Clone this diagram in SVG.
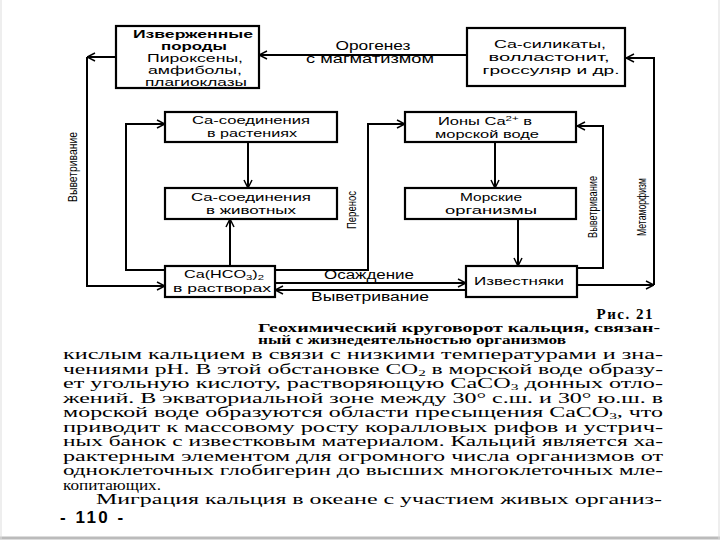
<svg xmlns="http://www.w3.org/2000/svg" width="720" height="540" viewBox="0 0 720 540">
<style>
.box{fill:#fff;stroke:#000;stroke-width:2.2}
.c{fill:none;stroke:#000;stroke-width:2}
.t{font-family:"Liberation Sans",Arial,sans-serif;font-size:11.5px;fill:#000;text-anchor:middle}
.b{font-weight:bold}
.lbl{font-family:"Liberation Sans",Arial,sans-serif;font-size:12px;fill:#000;text-anchor:middle}
.v{font-family:"Liberation Sans",Arial,sans-serif;font-size:12.5px;fill:#000;text-anchor:middle}
.cap{font-family:"Liberation Serif","Times New Roman",serif;font-size:11.5px;font-weight:bold;fill:#000}
.fig{font-family:"Liberation Serif","Times New Roman",serif;font-size:15px;font-weight:bold;fill:#000;text-anchor:end;letter-spacing:1.5px}
.body{font-family:"Liberation Serif","Times New Roman",serif;font-size:14px;fill:#000}
.pg{font-family:"Liberation Sans",Arial,sans-serif;font-size:17px;font-weight:bold;fill:#000;letter-spacing:2.5px}
</style>
<defs>
<marker id="a" viewBox="0 0 10 10" refX="10" refY="5" markerWidth="10" markerHeight="10" markerUnits="userSpaceOnUse" orient="auto">
<path d="M2,1 L10,5 L2,9" fill="none" stroke="#000" stroke-width="1.5"/>
</marker>
</defs>
<rect width="720" height="540" fill="#fff"/>
<line x1="0" y1="538" x2="720" y2="538" stroke="#bbb" stroke-width="3"/>
<line x1="1" y1="0" x2="1" y2="540" stroke="#ddd" stroke-width="1"/>
<line x1="719" y1="0" x2="719" y2="540" stroke="#ddd" stroke-width="1"/>

<g id="connectors">
<path class="c" d="M467,55 H259" marker-end="url(#a)"/>
<path class="c" d="M116,57 H87" marker-end="url(#a)"/>
<path class="c" d="M87,57 V286 H165" marker-end="url(#a)"/>
<path class="c" d="M165,270 H126 V124 H165" marker-end="url(#a)"/>
<path class="c" d="M248,142 V188" marker-end="url(#a)"/>
<path class="c" d="M230,266 V219" marker-end="url(#a)"/>
<path class="c" d="M275,270 H368 V124 H405" marker-end="url(#a)"/>
<path class="c" d="M275,283 H466" marker-end="url(#a)"/>
<path class="c" d="M466,290 H275" marker-end="url(#a)"/>
<path class="c" d="M495,142 V188" marker-end="url(#a)"/>
<path class="c" d="M518,219 V266" marker-end="url(#a)"/>
<path class="c" d="M577,268 H603 V126 H577" marker-end="url(#a)"/>
<path class="c" d="M577,285 H654" marker-end="url(#a)"/>
<path class="c" d="M654,285 V58 H626" marker-end="url(#a)"/>
<text class="lbl" x="373" y="50" textLength="75" lengthAdjust="spacingAndGlyphs">Орогенез</text>
<text class="lbl" x="370" y="63" textLength="128" lengthAdjust="spacingAndGlyphs">с магматизмом</text>
<text class="lbl" x="369" y="279" textLength="90" lengthAdjust="spacingAndGlyphs">Осаждение</text>
<text class="lbl" x="370" y="301" textLength="118" lengthAdjust="spacingAndGlyphs">Выветривание</text>
<text class="v" transform="translate(77,167) rotate(-90)" textLength="70" lengthAdjust="spacingAndGlyphs">Выветривание</text>
<text class="v" transform="translate(356,210) rotate(-90)" textLength="38" lengthAdjust="spacingAndGlyphs">Перенос</text>
<text class="v" transform="translate(597,207) rotate(-90)" textLength="62" lengthAdjust="spacingAndGlyphs">Выветривание</text>
<text class="v" transform="translate(646,207) rotate(-90)" textLength="58" lengthAdjust="spacingAndGlyphs">Метаморфизм</text>
</g>

<g id="n1">
<rect class="box" x="116" y="26" width="143" height="62"/>
<text class="t b" x="193" y="38" textLength="120" lengthAdjust="spacingAndGlyphs">Изверженные</text>
<text class="t b" x="194" y="50" textLength="66" lengthAdjust="spacingAndGlyphs">породы</text>
<text class="t" x="195" y="62" textLength="96" lengthAdjust="spacingAndGlyphs">Пироксены,</text>
<text class="t" x="195" y="74" textLength="94" lengthAdjust="spacingAndGlyphs">амфиболы,</text>
<text class="t" x="196" y="85.5" textLength="102" lengthAdjust="spacingAndGlyphs">плагиоклазы</text>
</g>
<g id="n2">
<rect class="box" x="467" y="28" width="158" height="58"/>
<text class="t" x="550" y="48" textLength="112" lengthAdjust="spacingAndGlyphs">Ca-силикаты,</text>
<text class="t" x="549" y="61" textLength="121" lengthAdjust="spacingAndGlyphs">волластонит,</text>
<text class="t" x="551" y="74" textLength="137" lengthAdjust="spacingAndGlyphs">гроссуляр и др.</text>
</g>
<g id="n3">
<rect class="box" x="165" y="112" width="172" height="30"/>
<text class="t" x="251" y="124" textLength="118" lengthAdjust="spacingAndGlyphs">Ca-соединения</text>
<text class="t" x="252" y="137" textLength="90" lengthAdjust="spacingAndGlyphs">в растениях</text>
</g>
<g id="n4">
<rect class="box" x="165" y="188" width="172" height="31"/>
<text class="t" x="251" y="201" textLength="120" lengthAdjust="spacingAndGlyphs">Ca-соединения</text>
<text class="t" x="251" y="214" textLength="90" lengthAdjust="spacingAndGlyphs">в животных</text>
</g>
<g id="n5">
<rect class="box" x="165" y="266" width="110" height="31"/>
<text class="t" x="224" y="278" textLength="80" lengthAdjust="spacingAndGlyphs">Ca(HCO<tspan font-size="8" dy="2">3</tspan><tspan dy="-2">)</tspan><tspan font-size="8" dy="2">2</tspan></text>
<text class="t" x="222" y="292" textLength="98" lengthAdjust="spacingAndGlyphs">в растворах</text>
</g>
<g id="n6">
<rect class="box" x="405" y="112" width="171" height="30"/>
<text class="t" x="485" y="125" textLength="94" lengthAdjust="spacingAndGlyphs">Ионы Ca<tspan font-size="8" dy="-4">2+</tspan><tspan dy="4"> в</tspan></text>
<text class="t" x="487" y="138" textLength="104" lengthAdjust="spacingAndGlyphs">морской воде</text>
</g>
<g id="n7">
<rect class="box" x="405" y="188" width="171" height="31"/>
<text class="t" x="491" y="201" textLength="62" lengthAdjust="spacingAndGlyphs">Морские</text>
<text class="t" x="491" y="214" textLength="92" lengthAdjust="spacingAndGlyphs">организмы</text>
</g>
<g id="n8">
<rect class="box" x="466" y="266" width="111" height="31"/>
<text class="t" x="519" y="285" textLength="90" lengthAdjust="spacingAndGlyphs">Известняки</text>
</g>

<g id="caption">
<text class="fig" x="654" y="319">Рис. 21</text>
<text class="cap" x="258" y="332" textLength="402" lengthAdjust="spacingAndGlyphs">Геохимический круговорот кальция, связан-</text>
<text class="cap" x="258" y="344" textLength="308" lengthAdjust="spacingAndGlyphs">ный с жизнедеятельностью организмов</text>
</g>

<g id="body">
<text class="body" x="63" y="359" textLength="600" lengthAdjust="spacingAndGlyphs">кислым кальцием в связи с низкими температурами и зна-</text>
<text class="body" x="63" y="373.5" textLength="600" lengthAdjust="spacingAndGlyphs">чениями pH. В этой обстановке CO<tspan font-size="9" dy="2">2</tspan><tspan dy="-2"> в морской воде образу-</tspan></text>
<text class="body" x="63" y="388" textLength="600" lengthAdjust="spacingAndGlyphs">ет угольную кислоту, растворяющую CaCO<tspan font-size="9" dy="2">3</tspan><tspan dy="-2"> донных отло-</tspan></text>
<text class="body" x="63" y="402.5" textLength="600" lengthAdjust="spacingAndGlyphs">жений. В экваториальной зоне между 30° с.ш. и 30° ю.ш. в</text>
<text class="body" x="63" y="417" textLength="600" lengthAdjust="spacingAndGlyphs">морской воде образуются области пресыщения CaCO<tspan font-size="9" dy="2">3</tspan><tspan dy="-2">, что</tspan></text>
<text class="body" x="63" y="431.5" textLength="600" lengthAdjust="spacingAndGlyphs">приводит к массовому росту коралловых рифов и устрич-</text>
<text class="body" x="63" y="446" textLength="600" lengthAdjust="spacingAndGlyphs">ных банок с известковым материалом. Кальций является ха-</text>
<text class="body" x="63" y="460.5" textLength="600" lengthAdjust="spacingAndGlyphs">рактерным элементом для огромного числа организмов от</text>
<text class="body" x="63" y="475" textLength="600" lengthAdjust="spacingAndGlyphs">одноклеточных глобигерин до высших многоклеточных мле-</text>
<text class="body" x="63" y="489.5" textLength="98" lengthAdjust="spacingAndGlyphs">копитающих.</text>
<text class="body" x="96" y="504" textLength="566" lengthAdjust="spacingAndGlyphs">Миграция кальция в океане с участием живых организ-</text>
<text class="pg" x="60" y="523">- 110 -</text>
</g>
</svg>
